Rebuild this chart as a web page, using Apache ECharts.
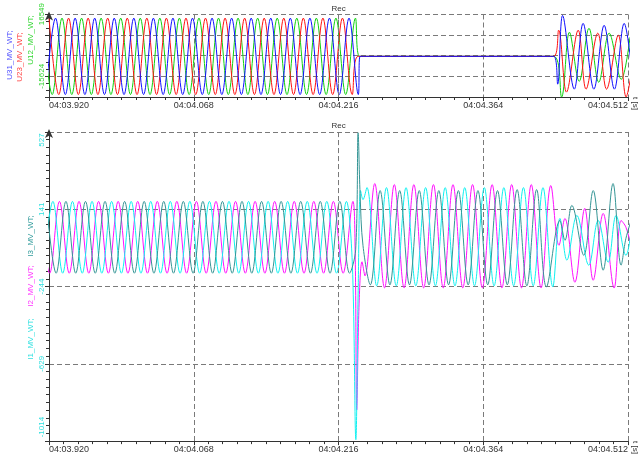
<!DOCTYPE html>
<html>
<head>
<meta charset="utf-8">
<script src="https://cdn.jsdelivr.net/npm/echarts@6/dist/echarts.min.js"></script>
<style>
html, body { margin: 0; padding: 0; background: #fff; }
#chart { width: 639px; height: 457px; }
</style>
</head>
<body>
<div id="chart"></div>
<script>
// Time axis in milliseconds after 04:03.920
const xTickLabels = ['04:03.920', '04:04.068', '04:04.216', '04:04.364', '04:04.512'];
const recTime = 296;

// Voltage axis tick labels (top panel) and current axis tick labels (bottom panel)
const uTickLabels = ['', '-15624', '', '16549', ''];
const iTickLabels = ['-1014', '-629', '-244', '141', '527'];

// Line voltages [ms, V] - extrema of each half cycle, trip, dead time, reclose
const u12 = [[-6.7,29800],[3.3,-29800],[13.3,29800],[23.3,-29800],[33.3,29800],[43.3,-29800],[53.3,29800],[63.3,-29800],[73.3,29800],[83.3,-29800],[93.3,29800],[103.3,-29800],[113.3,29800],[123.3,-29800],[133.3,29800],[143.3,-29800],[153.3,29800],[163.3,-29800],[173.3,29800],[183.3,-29800],[193.3,29800],[203.3,-29800],[213.3,29800],[223.3,-29800],[233.3,29800],[243.3,-29800],[253.3,29800],[263.3,-29800],[273.3,29800],[283.3,-29800],[293.3,29800],[303.3,-29800],[313.3,29800],[317.5,0],[516,0],[524,-31700],[532,18800],[542,-19500],[552,21900],[562,-20200],[572.6,18100],[585,-17900],[594,15000]];
const u23 = [[0,29800],[10,-29800],[20,29800],[30,-29800],[40,29800],[50,-29800],[60,29800],[70,-29800],[80,29800],[90,-29800],[100,29800],[110,-29800],[120,29800],[130,-29800],[140,29800],[150,-29800],[160,29800],[170,-29800],[180,29800],[190,-29800],[200,29800],[210,-29800],[220,29800],[230,-29800],[240,29800],[250,-29800],[260,29800],[270,-29800],[280,29800],[290,-29800],[300,29800],[310,-29800],[316,0],[516,0],[521,20400],[529,-27900],[541,20400],[549,-25600],[561,18100],[570,-25600],[582,16500],[590,-31700],[596,-10000]];
const u31 = [[-3.3,-29800],[6.7,29800],[16.7,-29800],[26.7,29800],[36.7,-29800],[46.7,29800],[56.7,-29800],[66.7,29800],[76.7,-29800],[86.7,29800],[96.7,-29800],[106.7,29800],[116.7,-29800],[126.7,29800],[136.7,-29800],[146.7,29800],[156.7,-29800],[166.7,29800],[176.7,-29800],[186.7,29800],[196.7,-29800],[206.7,29800],[216.7,-29800],[226.7,29800],[236.7,-29800],[246.7,29800],[256.7,-29800],[266.7,29800],[276.7,-29800],[286.7,29800],[296.7,-29800],[306.7,29800],[316.2,-29800],[318,0],[516,0],[520,-21700],[525,31900],[537,-25600],[546,25700],[557,-25600],[567.5,24200],[578,-25600],[588,25700],[596,-12000]];

// Phase currents [ms, A]
const i1 = [[-6,-177],[4,181],[14,-177],[24,181],[34,-177],[44,181],[54,-177],[64,181],[74,-177],[84,181],[94,-177],[104,181],[114,-177],[124,181],[134,-177],[144,181],[154,-177],[164,181],[174,-177],[184,181],[194,-177],[204,181],[214,-177],[224,181],[234,-177],[244,181],[254,-177],[264,181],[274,-177],[284,181],[294,-177],[304,181],[310,-120],[313.7,-1007],[316,-280],[318.5,235],[321,190],[325,250],[335,-240],[345,250],[355,-240],[365,250],[375,-240],[385,250],[395,-240],[405,250],[415,-240],[425,250],[435,-240],[445,250],[455,-240],[465,250],[475,-240],[485,250],[495,-240],[505,250],[515,-245],[522.3,96],[529.4,-112],[539.6,111],[551.8,-137],[561.4,86],[571.6,-122],[579.7,111],[589.8,-88],[596,60]];
const i2 = [[-9.3,181],[0.7,-177],[10.7,181],[20.7,-177],[30.7,181],[40.7,-177],[50.7,181],[60.7,-177],[70.7,181],[80.7,-177],[90.7,181],[100.7,-177],[110.7,181],[120.7,-177],[130.7,181],[140.7,-177],[150.7,181],[160.7,-177],[170.7,181],[180.7,-177],[190.7,181],[200.7,-177],[210.7,181],[220.7,-177],[230.7,181],[240.7,-177],[250.7,181],[260.7,-177],[270.7,181],[280.7,-177],[290.7,181],[300.7,-177],[310.7,181],[313,-80],[314.6,-858],[317,-330],[320,-120],[323,-190],[333,270],[343,-250],[353,265],[363,-250],[373,265],[383,-250],[393,265],[403,-250],[413,265],[423,-250],[433,265],[443,-250],[453,265],[463,-250],[473,265],[483,-250],[493,265],[503,-250],[513,260],[521.3,-38],[527.4,96],[537.6,-222],[547.7,146],[556.3,-212],[566.5,121],[577.7,-251],[584.8,86],[589.8,52],[596,-60]];
const i3 = [[-2.7,181],[7.3,-177],[17.3,181],[27.3,-177],[37.3,181],[47.3,-177],[57.3,181],[67.3,-177],[77.3,181],[87.3,-177],[97.3,181],[107.3,-177],[117.3,181],[127.3,-177],[137.3,181],[147.3,-177],[157.3,181],[167.3,-177],[177.3,181],[187.3,-177],[197.3,181],[207.3,-177],[217.3,181],[227.3,-177],[237.3,181],[247.3,-177],[257.3,181],[267.3,-177],[277.3,181],[287.3,-177],[297.3,181],[307.3,-177],[313.5,-60],[316,523],[318,220],[321,-40],[328.5,-235],[338.5,235],[348.5,-235],[358.5,235],[368.5,-235],[378.5,235],[388.5,-235],[398.5,235],[408.5,-235],[418.5,235],[428.5,-235],[438.5,235],[448.5,-235],[458.5,235],[468.5,-235],[478.5,240],[488.5,-240],[498.5,240],[508.5,-245],[522.3,86],[527.4,-13],[534.5,161],[546.7,-88],[556.3,235],[566.5,-162],[576.6,270],[584.8,-137],[589.8,-3],[596,100]];

const FONT = "'Liberation Sans', Arial, sans-serif";
const AXIS = '#333';
const GRIDLINE = '#7a7a7a';
const DASH = [5, 3];

const U_MIN = -31710.5, U_MAX = 32635.5, U_STEP = 16086.5;
const I_MIN = -1014, I_MAX = 527, I_STEP = 385.25;

function timeAxis(gi) {
  return {
    type: 'value', gridIndex: gi, min: 0, max: 592, interval: 148, z: 3,
    name: 't [s]', nameLocation: 'end', nameGap: 4, nameRotate: -90,
    nameTextStyle: { fontSize: 8, color: AXIS, fontFamily: FONT, align: 'left', verticalAlign: 'middle' },
    axisLine: { show: true, onZero: false, lineStyle: { color: AXIS, width: 1 } },
    axisTick: { show: true, length: 4, lineStyle: { color: AXIS } },
    minorTick: { show: true, splitNumber: 10, length: 3, lineStyle: { color: AXIS } },
    axisLabel: {
      margin: 4, fontSize: 9, color: AXIS, fontFamily: FONT,
      alignMinLabel: 'left', alignMaxLabel: 'right',
      formatter: v => xTickLabels[Math.round(v / 148)] || ''
    },
    splitLine: { show: true, lineStyle: { color: GRIDLINE, type: DASH, width: 1 } }
  };
}

function valueAxis(gi, min, max, step, labels, color, minorSplit, rich) {
  return {
    type: 'value', gridIndex: gi, min: min, max: max, interval: step, z: 3,
    axisLine: { show: true, lineStyle: { color: AXIS, width: 1 }, symbol: ['none', 'arrow'], symbolSize: [6, 9], symbolOffset: [0, 3] },
    axisTick: { show: true, length: 4, lineStyle: { color: AXIS } },
    minorTick: { show: true, splitNumber: minorSplit, length: 3, lineStyle: { color: AXIS } },
    axisLabel: {
      rotate: 90, margin: 3, fontSize: 8, color: color, fontFamily: FONT,
      formatter: function (v) {
        const k = Math.round((v - min) / step);
        const t = labels[k] || '';
        if (!t) return '';
        if (rich[t]) return '{' + rich[t].key + '|' + t + '}';
        return t;
      },
      rich: {
        up: { padding: [0, 0, 0, rich.upPad || 0], color: color, fontSize: 8, fontFamily: FONT },
        dn: { padding: [0, rich.dnPad || 0, 0, 0], color: color, fontSize: 8, fontFamily: FONT }
      }
    },
    splitLine: { show: true, lineStyle: { color: GRIDLINE, type: DASH, width: 1 } }
  };
}

function wave(name, data, color, xi, yi, extra) {
  return Object.assign({
    name: name, type: 'line', xAxisIndex: xi, yAxisIndex: yi, data: data,
    smooth: 0.36, showSymbol: false, symbol: 'none', animation: false, silent: true,
    lineStyle: { color: color, width: 1 }, itemStyle: { color: color }
  }, extra || {});
}

function recMark() {
  return {
    silent: true, symbol: 'none', animation: false,
    lineStyle: { color: GRIDLINE, type: DASH, width: 1 },
    label: { show: true, position: 'end', formatter: 'Rec', fontSize: 8, color: AXIS, fontFamily: FONT, distance: 2 },
    data: [{ xAxis: recTime }]
  };
}

function nameText(x, y, text, color) {
  return {
    type: 'text', x: x, y: y, rotation: Math.PI / 2, silent: true,
    style: { text: text, fill: color, fontSize: 8, fontFamily: FONT, align: 'center', verticalAlign: 'middle' }
  };
}

const chart = echarts.init(document.getElementById('chart'), null, { renderer: 'canvas' });
chart.setOption({
  animation: false,
  backgroundColor: '#fff',
  grid: [
    { left: 49, top: 14, width: 583, height: 83 },
    { left: 49, top: 132, width: 583, height: 311 }
  ],
  xAxis: [timeAxis(0), timeAxis(1)],
  yAxis: [
    valueAxis(0, U_MIN, U_MAX, U_STEP, uTickLabels, '#2fd62f', 3, { '16549': { key: 'up' }, upPad: 42 }),
    valueAxis(1, I_MIN, I_MAX, I_STEP, iTickLabels, '#2fe0e0', 10, { '527': { key: 'dn' }, '-1014': { key: 'up' }, upPad: 28, dnPad: 16 })
  ],
  graphic: [
    nameText(10, 55, 'U31_MV_WT;', '#5050ff'),
    nameText(20, 57, 'U23_MV_WT;', '#ff4040'),
    nameText(31, 40, 'U12_MV_WT;', '#2fd62f'),
    nameText(31, 236, 'I3_MV_WT;', '#2e9a9a'),
    nameText(31, 286, 'I2_MV_WT;', '#ff30ff'),
    nameText(31, 339, 'I1_MV_WT;', '#2fe0e0')
  ],
  series: [
    wave('U12_MV_WT', u12, '#10d010', 0, 0),
    wave('U23_MV_WT', u23, '#ff1010', 0, 0),
    wave('U31_MV_WT', u31, '#1010ff', 0, 0, { markLine: recMark() }),
    wave('I2_MV_WT', i2, '#ff10ff', 1, 1),
    wave('I1_MV_WT', i1, '#10f0f0', 1, 1),
    wave('I3_MV_WT', i3, '#359595', 1, 1, { markLine: recMark() })
  ]
});
</script>
</body>
</html>
